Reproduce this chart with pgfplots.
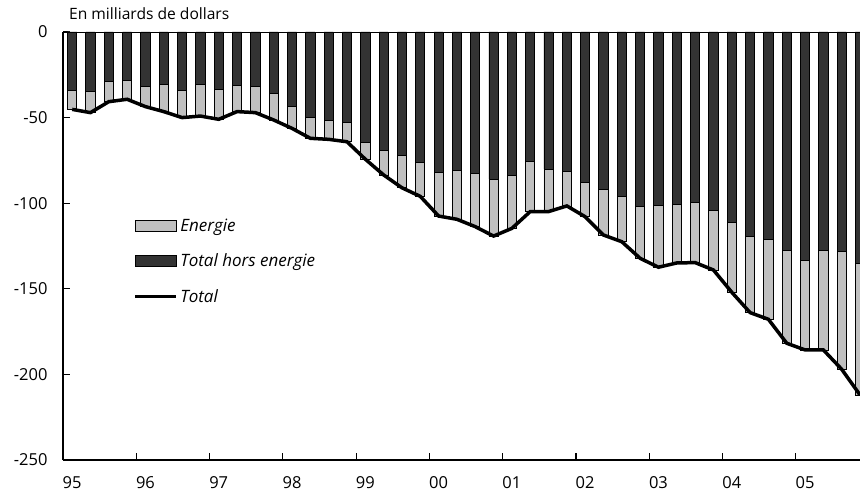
\documentclass[border=0pt]{standalone}
\usepackage{fontspec}
\setmainfont{Open Sans}
\usepackage{pgfplots}
\usepackage{pgfplotstable}
\pgfplotsset{compat=1.18}
\newcommand\fst{\fontsize{15.6bp}{18bp}\selectfont}
\newcommand\fsk{\fontsize{16.5bp}{19bp}\selectfont}
\newcommand\fsl{\fontsize{17bp}{20bp}\selectfont}
\definecolor{darkbar}{RGB}{51,51,51}
\definecolor{greybar}{RGB}{192,192,192}
\pgfplotsset{
  barlegend/.style={legend image code/.code={\draw[##1] (0bp,-5.5bp) rectangle (41bp,5.5bp);}},
  linelegend/.style={legend image code/.code={\draw[##1] (0bp,0bp) -- (41bp,0bp);}},
}
\pgfplotstableread{
k hors total
0 -33.9 -45.2
1 -34.5 -47.1
2 -29.0 -40.7
3 -28.0 -39.3
4 -31.5 -43.6
5 -30.4 -46.5
6 -33.9 -50.0
7 -30.4 -49.1
8 -33.5 -51.0
9 -31.1 -46.5
10 -31.9 -47.1
11 -35.8 -51.4
12 -43.6 -56.3
13 -50.0 -62.1
14 -51.8 -62.7
15 -53.0 -64.1
16 -64.5 -74.3
17 -69.1 -83.5
18 -72.3 -91.0
19 -75.9 -96.0
20 -82.0 -107.5
21 -81.0 -109.4
22 -82.5 -113.7
23 -85.9 -119.2
24 -83.5 -114.7
25 -75.4 -104.9
26 -80.0 -104.9
27 -81.2 -101.6
28 -88.0 -107.9
29 -91.9 -118.6
30 -96.2 -122.5
31 -102.0 -132.2
32 -101.2 -137.4
33 -100.6 -134.9
34 -99.7 -134.7
35 -104.4 -139.0
36 -111.2 -152.0
37 -119.6 -163.9
38 -120.9 -167.8
39 -127.7 -181.8
40 -133.6 -185.7
41 -127.3 -185.7
42 -128.3 -197.0
43 -135.1 -212.0
}\datatable
\begin{document}
\begin{tikzpicture}
\begin{axis}[
  name=ax, at={(0,0)}, anchor=south west,
  width=797bp, height=428bp, scale only axis,
  xmin=-0.5, xmax=43, ymin=-250, ymax=0,
  axis x line*=bottom, axis y line*=left,
  axis line style={-, line width=1.6bp},
  tick align=inside, major tick length=7bp,
  tick style={line width=1.2bp, black},
  ytick={-250,-200,-150,-100,-50,0},
  yticklabels={-250,-200,-150,-100,-50,0},
  xtick={3.5,7.5,11.5,15.5,19.5,23.5,27.5,31.5,35.5,39.5},
  xticklabels={},
  extra x ticks={0,4,8,12,16,20,24,28,32,36,40},
  extra x tick labels={95,96,97,98,99,00,01,02,03,04,05},
  extra x tick style={major tick length=0pt},
  tick label style={font=\fsk},
  xticklabel style={yshift=-13bp},
  yticklabel style={xshift=-12bp},
  legend style={at={(0.088,0.57)}, anchor=north west, draw=none, fill=none,
    font=\fsl\itshape, row sep=16bp, inner sep=0pt,
    nodes={inner sep=2.5bp}},
  legend cell align=left,
]
\addplot[ybar, bar width=9.2bp, bar shift=0pt, fill=greybar, draw=black, line width=0.8bp, barlegend]
  table[x=k, y=total] {\datatable};
\addlegendentry{Energie}
\addplot[ybar, bar width=9.2bp, bar shift=0pt, fill=darkbar, draw=black, line width=0.8bp, barlegend]
  table[x=k, y=hors] {\datatable};
\addlegendentry{Total hors energie}
\addplot[black, line width=3.5bp, mark=none, linelegend]
  table[x=k, y=total] {\datatable};
\addlegendentry{Total}
\draw[line width=0.9bp] (rel axis cs:0,1) -- (rel axis cs:1,1);
\end{axis}
\node[anchor=base west, font=\fst, inner sep=0pt] at ([xshift=6bp, yshift=12bp]ax.north west) {En milliards de dollars};
\pgfresetboundingbox
\path[use as bounding box] ([xshift=-63bp,yshift=-39bp]ax.south west) rectangle ([yshift=32bp]ax.north east);
\end{tikzpicture}
\end{document}
